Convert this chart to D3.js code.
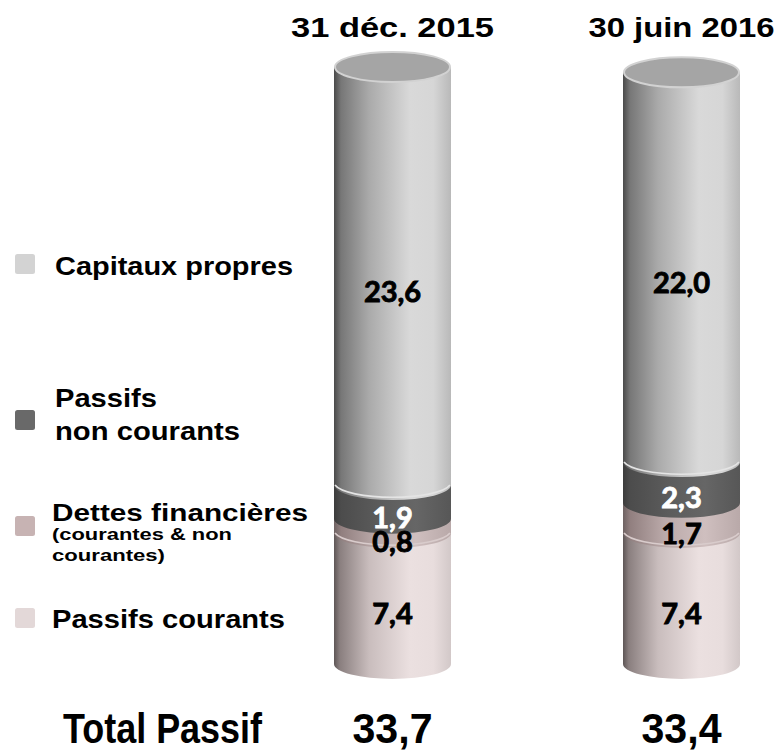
<!DOCTYPE html>
<html><head><meta charset="utf-8">
<script src="https://cdn.jsdelivr.net/npm/d3@7"></script>
<style>body{margin:0;background:#fff}svg{display:block}</style>
</head><body><svg id="c" width="776" height="752"></svg>
<script>
// ---- data ----
const periods = ["31 déc. 2015", "30 juin 2016"];
const seriesNames = ["Passifs courants", "Dettes financières", "Passifs non courants", "Capitaux propres"];
const passifsCourants = [7.4, 7.4];
const dettesFinancieres = [0.8, 1.7];
const passifsNonCourants = [1.9, 2.3];
const capitauxPropres = [23.6, 22.0];
const totals = ["33,7", "33,4"];
const totalLabel = "Total Passif";

const svg = d3.select("#c");
const defs = svg.append("defs");
const fmt = v => d3.format(".1f")(v).replace(".", ",");

const x = d3.scalePoint().domain(periods).range([392.5, 681.5]);
const y = d3.scaleLinear().domain([0, 33.7]).range([664, 67]);
const rx = 58.5, ry = 15;

// gradients per series
const grads = {
  "Passifs courants": [[0,"#5e5656"],[0.05,"#8a7f7f"],[0.3,"#c9bdbd"],[0.65,"#ebe0e0"],[0.85,"#e8dddd"],[1,"#d2c8c8"]],
  "Dettes financières": [[0,"#6e6262"],[0.06,"#917f7f"],[0.35,"#baa9a9"],[0.7,"#cfbfbf"],[1,"#b9a9a9"]],
  "Passifs non courants": [[0,"#3c3c3c"],[0.06,"#4c4c4c"],[0.4,"#5c5c5c"],[0.7,"#666666"],[1,"#575757"]],
  "Capitaux propres": [[0,"#4a4a4a"],[0.06,"#777777"],[0.3,"#aaaaaa"],[0.65,"#d9d9d9"],[0.85,"#d6d6d6"],[1,"#b9b9b9"]]
};
const legendColors = {"Capitaux propres":"#d3d3d3","Passifs non courants":"#696969","Dettes financières":"#c7b3b3","Passifs courants":"#e3d8d8"};
const rimColors = {"Capitaux propres":"#e4e4e4","Passifs non courants":"none","Dettes financières":"#d9cccc","Passifs courants":"none"};
const labelColors = {"Capitaux propres":"#000","Passifs non courants":"#fff","Dettes financières":"#000","Passifs courants":"#000"};
seriesNames.forEach((s,i)=>{
  const g = defs.append("linearGradient").attr("id","g"+i).attr("x1","0").attr("x2","1").attr("y1","0").attr("y2","0");
  grads[s].forEach(([o,c])=>g.append("stop").attr("offset",o).attr("stop-color",c));
});

const values = [passifsCourants, dettesFinancieres, passifsNonCourants, capitauxPropres];

// titles
const titleLens = [203, 186];
svg.selectAll("text.title").data(periods).join("text").attr("class","title")
  .attr("x", d=>x(d)).attr("y", 37).attr("text-anchor","middle")
  .attr("font-family","Liberation Sans, Arial, sans-serif").attr("font-weight","bold").attr("font-size",27)
  .attr("textLength",(d,i)=>titleLens[i]).attr("lengthAdjust","spacingAndGlyphs")
  .text(d=>d);

periods.forEach((p,pi)=>{
  const cx = x(p), x0 = cx-rx, x1 = cx+rx;
  const g = svg.append("g");
  let cum = 0;
  const segs = [];
  seriesNames.forEach((s,si)=>{
    const v = values[si][pi];
    segs.push({s, si, v, y0: y(cum), y1: y(cum+v)});
    cum += v;
  });
  segs.forEach(d=>{
    g.append("path")
      .attr("d", `M${x0},${d.y1} L${x0},${d.y0} A${rx},${ry} 0 0 0 ${x1},${d.y0} L${x1},${d.y1} Z`)
      .attr("fill", `url(#g${d.si})`);
    if (rimColors[d.s] !== "none" && d.si>0) {
      g.append("path")
        .attr("d", `M${x0+1},${d.y0} A${rx},${ry} 0 0 0 ${x1-1},${d.y0}`)
        .attr("fill","none").attr("stroke",rimColors[d.s]).attr("stroke-width",1.6);
    }
  });
  const top = segs[segs.length-1].y1;
  g.append("ellipse").attr("cx",cx).attr("cy",top).attr("rx",rx-1).attr("ry",ry)
    .attr("fill","#a5a5a5").attr("stroke","#d2d2d2").attr("stroke-width",2);
  // labels
  segs.forEach(d=>{
    g.append("text").attr("x",cx).attr("y",(d.y0+d.y1)/2+ry+11)
      .attr("text-anchor","middle").attr("font-family","Lato, sans-serif").attr("font-weight","bold")
      .attr("font-size",29).attr("fill",labelColors[d.s])
      .attr("stroke",labelColors[d.s]).attr("stroke-width",0.9)
      .text(fmt(d.v));
  });
});

// legend
const lg = svg.append("g").attr("font-family","Liberation Sans, Arial, sans-serif").attr("font-weight","bold").attr("fill","#000");
const legendItems = [
  {s:"Capitaux propres", sy:254, lines:[{t:"Capitaux propres",x:55,y:275,fs:26,len:238}]},
  {s:"Passifs non courants", sy:410, lines:[{t:"Passifs",x:55,y:407,fs:26,len:102},{t:"non courants",x:55,y:440,fs:26,len:185}]},
  {s:"Dettes financières", sy:516, lines:[{t:"Dettes financières",x:52,y:521,fs:24,len:256},{t:"(courantes & non",x:52,y:540,fs:17,len:180},{t:"courantes)",x:52,y:561,fs:17,len:113}]},
  {s:"Passifs courants", sy:608, lines:[{t:"Passifs courants",x:52,y:628,fs:26,len:233}]}
];
legendItems.forEach(it=>{
  lg.append("rect").attr("x",15).attr("y",it.sy).attr("width",20).attr("height",20).attr("rx",2.5)
    .attr("fill",legendColors[it.s]);
  it.lines.forEach(l=>{
    lg.append("text").attr("x",l.x).attr("y",l.y).attr("font-size",l.fs)
      .attr("textLength",l.len).attr("lengthAdjust","spacingAndGlyphs").text(l.t);
  });
});

// totals
const tg = svg.append("g").attr("font-family","Liberation Sans, Arial, sans-serif").attr("font-weight","bold").attr("font-size",43);
tg.append("text").attr("x",63).attr("y",743).attr("textLength",199).attr("lengthAdjust","spacingAndGlyphs").text(totalLabel);
tg.selectAll("text.tot").data(totals).join("text").attr("class","tot")
  .attr("x",(d,i)=>x(periods[i])).attr("y",743).attr("text-anchor","middle")
  .attr("textLength",80).attr("lengthAdjust","spacingAndGlyphs").text(d=>d);
</script></body></html>
